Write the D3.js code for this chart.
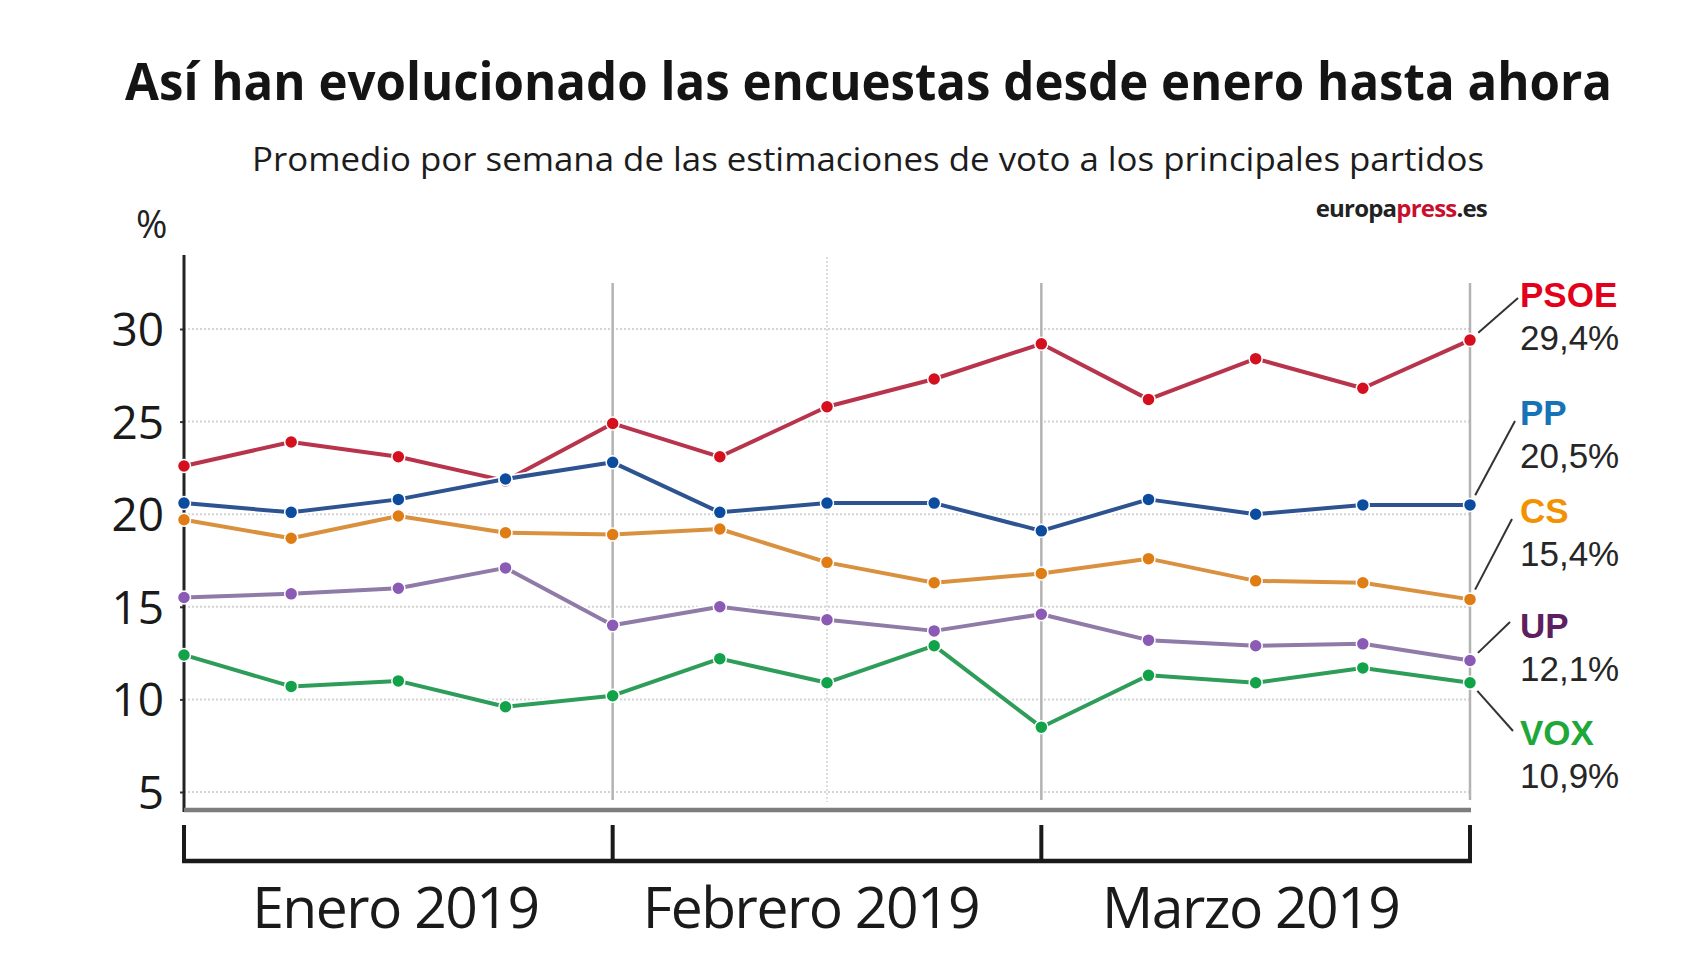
<!DOCTYPE html>
<html>
<head>
<meta charset="utf-8">
<script src="https://cdn.jsdelivr.net/npm/d3@7/dist/d3.min.js"></script>
<style>
  html, body { margin: 0; padding: 0; background: #ffffff; }
  svg { display: block; }
  text { font-family: "Open Sans", "Noto Sans", sans-serif; }
</style>
</head>
<body>
<svg id="chart" width="1706" height="960"></svg>
<script>
// ---------------- DATA ----------------
const weeks = ["S1","S2","S3","S4","S5","S6","S7","S8","S9","S10","S11","S12","S13"];
const parties = ["PSOE","PP","CS","UP","VOX"];
const psoe = [22.6, 23.9, 23.1, 21.8, 24.9, 23.1, 25.8, 27.3, 29.2, 26.2, 28.4, 26.8, 29.4];
const pp   = [20.6, 20.1, 20.8, 21.9, 22.8, 20.1, 20.6, 20.6, 19.1, 20.8, 20.0, 20.5, 20.5];
const cs   = [19.7, 18.7, 19.9, 19.0, 18.9, 19.2, 17.4, 16.3, 16.8, 17.6, 16.4, 16.3, 15.4];
const up   = [15.5, 15.7, 16.0, 17.1, 14.0, 15.0, 14.3, 13.7, 14.6, 13.2, 12.9, 13.0, 12.1];
const vox  = [12.4, 10.7, 11.0,  9.6, 10.2, 12.2, 10.9, 12.9,  8.5, 11.3, 10.9, 11.7, 10.9];
const lastLabels = ["29,4%","20,5%","15,4%","12,1%","10,9%"];
const yTicks = [5, 10, 15, 20, 25, 30];
const months = ["Enero 2019","Febrero 2019","Marzo 2019"];
const monthBounds = ["S1","S5","S9","S13"];
const midWeek = "S7";

// ---------------- STYLE / LAYOUT ----------------
const lineColors   = ["#b8344c", "#2d5391", "#d9913f", "#8f7aa8", "#2f9d5a"];
const markerColors = ["#d4101f", "#0b4c9e", "#e07c14", "#8b5ab4", "#12a34a"];
const labelColors  = ["#e2001a", "#1573b6", "#f39200", "#5d1f5f", "#1fa83a"];
const labelBaselines = [307, 425, 523, 638, 745];
const leaderEnds = [[1518, 298], [1515, 421], [1512, 519], [1510, 622], [1513, 731]];
const labelX = 1520;
const monthDx = [-3, -16, -5];

const series = [psoe, pp, cs, up, vox];

const svg = d3.select("#chart");

const x = d3.scalePoint().domain(weeks).range([184, 1470]);
const y = d3.scaleLinear().domain([5, 30]).range([792, 329]);

// Title
svg.append("text")
  .attr("x", 125).attr("y", 100)
  .attr("textLength", 1487).attr("lengthAdjust", "spacingAndGlyphs")
  .style("font-size", "52px").style("font-weight", 700).style("fill", "#141414")
  .text("Así han evolucionado las encuestas desde enero hasta ahora");

// Subtitle
svg.append("text")
  .attr("x", 252).attr("y", 171)
  .attr("textLength", 1232).attr("lengthAdjust", "spacingAndGlyphs")
  .style("font-size", "32px").style("fill", "#1c1c1c")
  .text("Promedio por semana de las estimaciones de voto a los principales partidos");

// Source
const src = svg.append("text")
  .attr("x", 1487).attr("y", 217)
  .attr("text-anchor", "end")
  .style("font-size", "24px").style("font-weight", 700).style("letter-spacing", "-0.8px");
src.append("tspan").style("fill", "#222").text("europa");
src.append("tspan").style("fill", "#c8102e").text("press");
src.append("tspan").style("fill", "#222").text(".es");

// % unit
svg.append("text")
  .attr("x", 136).attr("y", 238)
  .style("font-size", "38px").style("fill", "#222")
  .text("%");

// Gridlines (dotted)
svg.append("g").selectAll("line").data(yTicks).join("line")
  .attr("x1", x(weeks[0])).attr("x2", x(weeks[weeks.length - 1]))
  .attr("y1", d => y(d)).attr("y2", d => y(d))
  .attr("stroke", "#d4d4d4").attr("stroke-width", 2).attr("stroke-dasharray", "2,2");

// Faint mid-month dotted vertical
svg.append("line")
  .attr("x1", x(midWeek)).attr("x2", x(midWeek))
  .attr("y1", 257).attr("y2", 802)
  .attr("stroke", "#dedede").attr("stroke-width", 2).attr("stroke-dasharray", "2,2");

// Month boundary verticals
svg.append("g").selectAll("line").data(monthBounds.slice(1)).join("line")
  .attr("x1", d => x(d)).attr("x2", d => x(d))
  .attr("y1", 283).attr("y2", 800)
  .attr("stroke", "#b3b3b3").attr("stroke-width", 2.5);

// Y axis
const yAxis = d3.axisLeft(y).tickValues(yTicks).tickSize(4).tickPadding(16).tickFormat(d3.format("d"));
const gy = svg.append("g").attr("transform", `translate(${x(weeks[0])},0)`).call(yAxis);
gy.select(".domain").remove();
gy.selectAll(".tick line").attr("stroke", "#333").attr("stroke-width", 2);
gy.selectAll(".tick text")
  .style("font-size", "46px").style("fill", "#1a1a1a")
  .style("font-family", "'Open Sans', sans-serif").attr("dy", "0.36em");
svg.append("line")
  .attr("x1", x(weeks[0])).attr("x2", x(weeks[0]))
  .attr("y1", 255).attr("y2", 812)
  .attr("stroke", "#222").attr("stroke-width", 3);

// Bottom grey axis
svg.append("line")
  .attr("x1", x(weeks[0])).attr("x2", x(weeks[weeks.length - 1]) + 1)
  .attr("y1", 810).attr("y2", 810)
  .attr("stroke", "#7d7d7d").attr("stroke-width", 4.5);

// Month bracket
svg.append("line")
  .attr("x1", x(monthBounds[0]) - 2).attr("x2", x(monthBounds[3]) + 2)
  .attr("y1", 861).attr("y2", 861)
  .attr("stroke", "#1a1a1a").attr("stroke-width", 4.5);
svg.append("g").selectAll("line").data(monthBounds).join("line")
  .attr("x1", d => x(d)).attr("x2", d => x(d))
  .attr("y1", 825).attr("y2", 863)
  .attr("stroke", "#1a1a1a").attr("stroke-width", 4);

svg.append("g").selectAll("text").data(months).join("text")
  .attr("x", (d, i) => (x(monthBounds[i]) + x(monthBounds[i + 1])) / 2 + monthDx[i])
  .attr("y", 928)
  .attr("text-anchor", "middle")
  .style("font-size", "57px").style("letter-spacing", "-1.5px").style("fill", "#1a1a1a")
  .text(d => d);

// Lines
const line = d3.line().x((d, i) => x(weeks[i])).y(d => y(d));
const gl = svg.append("g");
series.forEach((s, k) => {
  gl.append("path").datum(s).attr("d", line)
    .attr("fill", "none").attr("stroke", "#ffffff").attr("stroke-width", 7.5)
    .attr("stroke-linejoin", "round");
  gl.append("path").datum(s).attr("d", line)
    .attr("fill", "none").attr("stroke", lineColors[k]).attr("stroke-width", 4)
    .attr("stroke-linejoin", "round");
});
series.forEach((s, k) => {
  gl.append("g").selectAll("circle").data(s).join("circle")
    .attr("cx", (d, i) => x(weeks[i])).attr("cy", d => y(d))
    .attr("r", 6.5)
    .attr("fill", markerColors[k]).attr("stroke", "#ffffff").attr("stroke-width", 1.5);
});

// End labels + leader lines
const gLab = svg.append("g");
series.forEach((s, k) => {
  const px = x(weeks[weeks.length - 1]);
  const py = y(s[s.length - 1]);
  const [ex, ey] = leaderEnds[k];
  const dx = ex - px, dy = ey - py, len = Math.hypot(dx, dy);
  gLab.append("line")
    .attr("x1", px + dx / len * 11).attr("y1", py + dy / len * 11)
    .attr("x2", ex).attr("y2", ey)
    .attr("stroke", "#333").attr("stroke-width", 2);
  gLab.append("text")
    .attr("x", labelX).attr("y", labelBaselines[k])
    .style("font-family", "'Liberation Sans', Arial, sans-serif")
    .style("font-size", "35px").style("font-weight", 700)
    .style("fill", labelColors[k])
    .text(parties[k]);
  gLab.append("text")
    .attr("x", labelX).attr("y", labelBaselines[k] + 43)
    .style("font-family", "'Liberation Sans', Arial, sans-serif")
    .style("font-size", "35px").style("fill", "#262626")
    .text(lastLabels[k]);
});
</script>
</body>
</html>
